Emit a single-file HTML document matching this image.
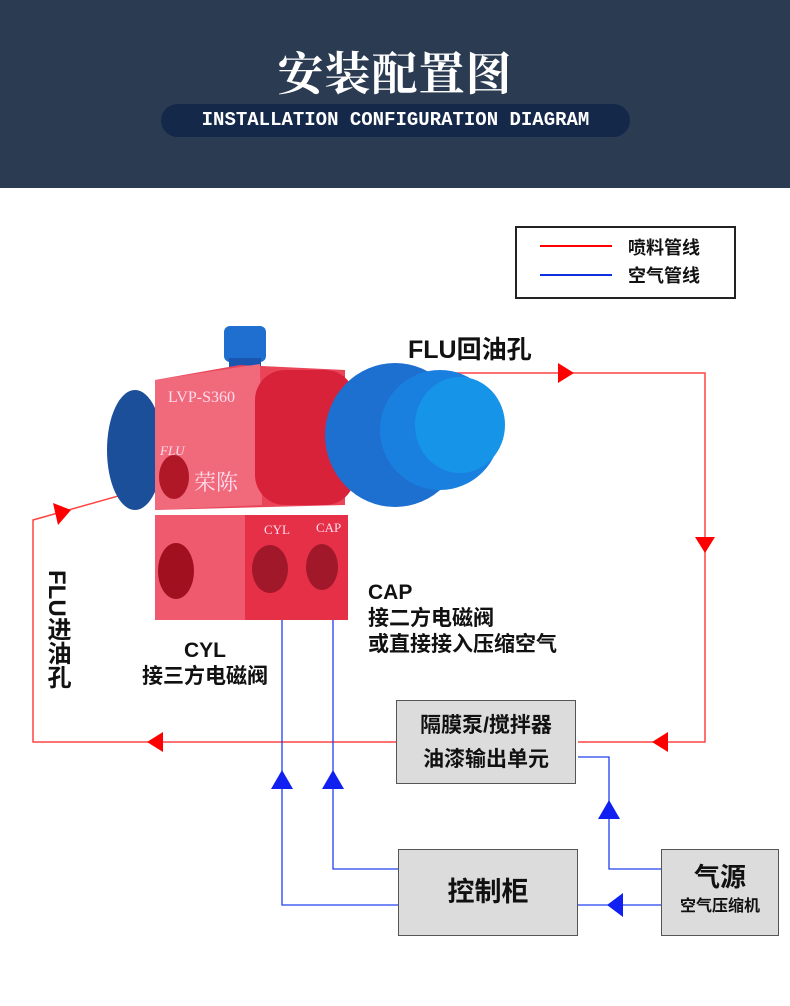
<!DOCTYPE html>
<html><head><meta charset="utf-8"><style>
body{margin:0;width:790px;height:1006px;background:#fff;position:relative;overflow:hidden;font-family:"Liberation Sans","Noto Sans CJK SC",sans-serif}
.hd{position:absolute;left:0;top:0;width:790px;height:188px;background:#2b3c52}
.t{position:absolute;left:0;width:790px;top:38px;text-align:center;color:#fff;font:bold 46px "Noto Serif CJK SC",serif;letter-spacing:1px}
.pill{position:absolute;left:161px;top:104px;width:469px;height:33px;border-radius:17px;background:#14284a;color:#fff;font:bold 19px "Liberation Mono",monospace;text-align:center;line-height:33px}
.box{position:absolute;background:#dcdcdc;border:1.5px solid #555;box-sizing:border-box;text-align:center;font-weight:bold;color:#111}
.lbl{position:absolute;font-weight:bold;color:#111;font-size:21px;line-height:26px}
</style></head><body>
<div class="hd"></div>
<div class="t">安装配置图</div>
<div class="pill">INSTALLATION CONFIGURATION DIAGRAM</div>

<svg width="790" height="1006" style="position:absolute;left:0;top:0">
<rect x="516" y="227" width="219" height="71" fill="#fff" stroke="#222" stroke-width="2"/>
<line x1="540" y1="246" x2="612" y2="246" stroke="#f00" stroke-width="2"/>
<line x1="540" y1="275" x2="612" y2="275" stroke="#1030e0" stroke-width="2"/>
<g stroke="#f44" stroke-width="1.5" fill="none">
<polyline points="168,482 33,520 33,742 396,742"/>
<polyline points="445,373 705,373 705,742 578,742"/>
</g>
<g fill="#f00">
<polygon points="53,503 71,510 58,525"/>
<polygon points="574,373 558,363 558,383"/>
<polygon points="705,553 695,537 715,537"/>
<polygon points="147,742 163,732 163,752"/>
<polygon points="652,742 668,732 668,752"/>
</g>
<g stroke="#2040f0" stroke-width="1.3" fill="none">
<polyline points="282,555 282,905 398,905"/>
<polyline points="333,560 333,869 398,869"/>
<polyline points="578,757 609,757 609,869 661,869"/>
<line x1="578" y1="905" x2="661" y2="905"/>
</g>
<g fill="#1020f0">
<polygon points="282,770 271,789 293,789"/>
<polygon points="333,770 322,789 344,789"/>
<polygon points="609,800 598,819 620,819"/>
<polygon points="607,905 623,893 623,917"/>
</g>
<!-- gun -->
<rect x="224" y="326" width="42" height="36" rx="6" fill="#1f6fd0"/>
<rect x="229" y="358" width="32" height="20" fill="#1a55b0"/>
<ellipse cx="135" cy="450" rx="28" ry="60" fill="#1c4f9a"/>
<polygon points="155,380 240,365 345,370 345,505 155,510" fill="#e94458"/>
<polygon points="155,380 260,364 262,505 155,510" fill="#f06a7c"/>
<rect x="255" y="370" width="100" height="135" rx="30" fill="#d8223a"/>
<ellipse cx="395" cy="435" rx="70" ry="72" fill="#1d6fd0"/>
<ellipse cx="440" cy="430" rx="60" ry="60" fill="#1a80e0"/>
<ellipse cx="460" cy="425" rx="45" ry="48" fill="#1694e8"/>
<rect x="155" y="515" width="193" height="105" fill="#e53048"/>
<rect x="155" y="515" width="90" height="105" fill="#f05a6e"/>
<ellipse cx="176" cy="571" rx="18" ry="28" fill="#a0101f"/>
<ellipse cx="270" cy="569" rx="18" ry="24" fill="#a0182a"/>
<ellipse cx="322" cy="567" rx="16" ry="23" fill="#a0182a"/>
<ellipse cx="174" cy="477" rx="15" ry="22" fill="#b01828"/>
<text x="168" y="402" fill="#fde" font-family="Liberation Serif" font-size="16">LVP-S360</text>
<text x="160" y="455" fill="#fde" font-family="Liberation Serif" font-size="13" font-style="italic">FLU</text>
<text x="194" y="490" fill="#fde" font-family="Noto Serif CJK SC" font-size="22">荣陈</text>
<text x="264" y="534" fill="#fde" font-family="Liberation Serif" font-size="13">CYL</text>
<text x="316" y="532" fill="#fde" font-family="Liberation Serif" font-size="13">CAP</text>
</svg>

<div class="lbl" style="left:628px;top:235px;font-size:18px">喷料管线</div>
<div class="lbl" style="left:628px;top:263px;font-size:18px">空气管线</div>
<div class="lbl" style="left:408px;top:335px;font-size:25px;line-height:30px">FLU回油孔</div>
<div class="lbl" style="left:368px;top:580px">CAP<br>接二方电磁阀<br>或直接接入压缩空气</div>
<div class="lbl" style="left:137px;top:638px;width:136px;text-align:center">CYL<br>接三方电磁阀</div>
<div class="lbl" style="left:40px;top:570px;font-size:24px;width:30px;line-height:28px;writing-mode:vertical-rl">FLU进油孔</div>
<div class="box" style="left:396px;top:700px;width:180px;height:84px;font-size:21px;line-height:34px;padding-top:8px">隔膜泵/搅拌器<br>油漆输出单元</div>
<div class="box" style="left:398px;top:849px;width:180px;height:87px;font-size:27px;line-height:84px">控制柜</div>
<div class="box" style="left:661px;top:849px;width:118px;height:87px;padding-top:9px"><div style="font-size:26px;line-height:36px">气源</div><div style="font-size:16px;line-height:24px">空气压缩机</div></div>
</body></html>
